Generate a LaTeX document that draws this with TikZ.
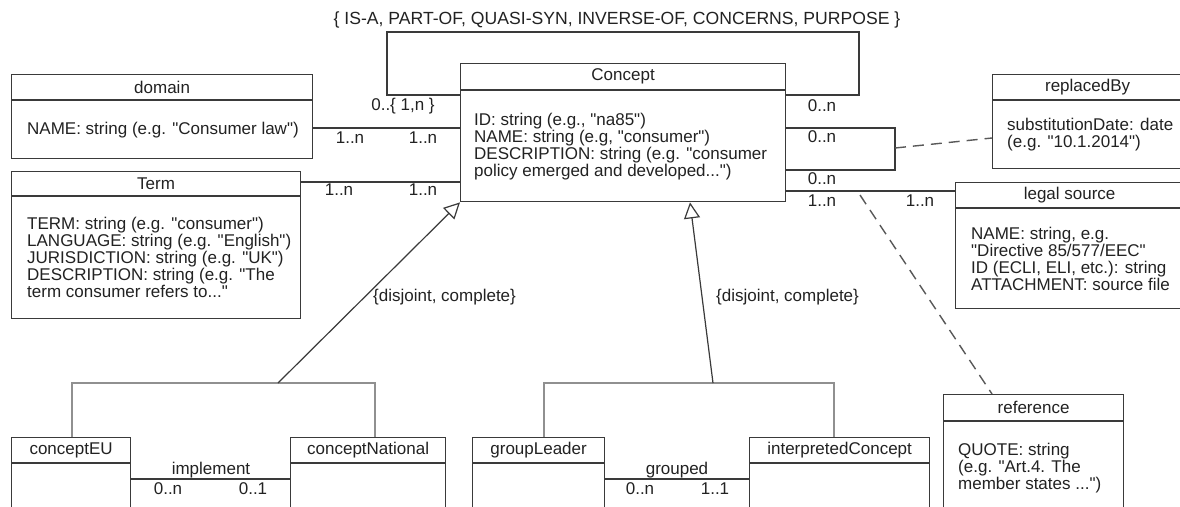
\documentclass[tikz,border=0pt]{standalone}
\usepackage{fontspec}
\setmainfont{Liberation Sans}[Ligatures=TeXOff]
\usetikzlibrary{arrows.meta,calc}

\definecolor{ink}{HTML}{222222}
\definecolor{edge}{HTML}{3A3A3A}
\definecolor{tree}{HTML}{909090}

\tikzset{
  box/.style={draw=edge, line width=1.2pt, anchor=north west, inner sep=0pt},
  title/.style={text=ink, font=\fontsize{17}{17}\selectfont, inner sep=0pt},
  attr/.style={text=ink, font=\fontsize{17}{17}\selectfont, align=left, anchor=west, inner sep=0pt},
  mult/.style={text=ink, font=\fontsize{17}{17}\selectfont, inner sep=0pt},
  assoc/.style={draw=edge, line width=1.2pt},
  dashlink/.style={draw=edge!85, line width=1.4pt, dash pattern=on 11pt off 7pt},
  gen/.style={draw=edge, line width=1.2pt, -{Triangle[open, length=16pt, width=16pt, fill=white]}},
  treeline/.style={draw=tree, line width=1.2pt},
}

\begin{document}
\begin{tikzpicture}[x=1pt, y=-1pt]
  \path[use as bounding box, fill=white] (0,0) rectangle (1180,506);
  \clip (0,0) rectangle (1180,506);

  % ---------- classes: header part + body part ----------
  % Concept
  \node[box, minimum width=325pt, minimum height=26pt] (concept-h) at (460,63) {};
  \node[box, minimum width=325pt, minimum height=111pt] (concept) at (concept-h.south west) {};
  \node[title] (concept-t) at (concept-h.center) {Concept};
  \node[attr] (concept-a) at ([xshift=14pt]concept.west)
    {ID: string (e.g., "na85")\\NAME: string (e.g, "consumer")\\DESCRIPTION: string (e.g. "consumer\\policy emerged and developed...")};

  % domain
  \node[box, minimum width=301pt, minimum height=25pt] (domain-h) at (11,74) {};
  \node[box, minimum width=301pt, minimum height=58pt] (domain) at (domain-h.south west) {};
  \node[title] (domain-t) at (domain-h.center) {domain};
  \node[attr] (domain-a) at ([xshift=16pt]domain.west) {NAME: string (e.g. "Consumer law")};

  % Term
  \node[box, minimum width=289pt, minimum height=24pt] (term-h) at (11,171) {};
  \node[box, minimum width=289pt, minimum height=122pt] (term) at (term-h.south west) {};
  \node[title] (term-t) at (term-h.center) {Term};
  \node[attr] (term-a) at ([xshift=16pt]term.west)
    {TERM: string (e.g. "consumer")\\LANGUAGE: string (e.g. "English")\\JURISDICTION: string (e.g. "UK")\\DESCRIPTION: string (e.g. "The\\term consumer refers to..."};

  % replacedBy
  \node[box, minimum width=190pt, minimum height=25pt] (repl-h) at (992,74) {};
  \node[box, minimum width=190pt, minimum height=68pt] (repl) at (repl-h.south west) {};
  \node[title] (repl-t) at (repl-h.center) {replacedBy};
  \node[attr] (repl-a) at ([xshift=15pt]repl.west) {substitutionDate: date\\(e.g. "10.1.2014")};

  % legal source
  \node[box, minimum width=228pt, minimum height=25pt] (legal-h) at (955,182) {};
  \node[box, minimum width=228pt, minimum height=100pt] (legal) at (legal-h.south west) {};
  \node[title] (legal-t) at (legal-h.center) {legal source};
  \node[attr] (legal-a) at ([xshift=16pt]legal.west)
    {NAME: string, e.g.\\"Directive 85/577/EEC"\\ID (ECLI, ELI, etc.): string\\ATTACHMENT: source file};

  % reference
  \node[box, minimum width=180pt, minimum height=26pt] (ref-h) at (943,394) {};
  \node[box, minimum width=180pt, minimum height=92pt] (ref) at (ref-h.south west) {};
  \node[title] (ref-t) at (ref-h.center) {reference};
  \node[attr] (ref-a) at ([xshift=15pt]ref.west) {QUOTE: string\\(e.g. "Art.4. The\\member states ...")};

  % conceptEU
  \node[box, minimum width=119pt, minimum height=25pt] (ceu-h) at (11,437) {};
  \node[box, minimum width=119pt, minimum height=60pt] (ceu) at (ceu-h.south west) {};
  \node[title] (ceu-t) at (ceu-h.center) {conceptEU};

  % conceptNational
  \node[box, minimum width=155pt, minimum height=25pt] (cnat-h) at (290,437) {};
  \node[box, minimum width=155pt, minimum height=60pt] (cnat) at (cnat-h.south west) {};
  \node[title] (cnat-t) at (cnat-h.center) {conceptNational};

  % groupLeader
  \node[box, minimum width=132pt, minimum height=25pt] (glead-h) at (472,437) {};
  \node[box, minimum width=132pt, minimum height=60pt] (glead) at (glead-h.south west) {};
  \node[title] (glead-t) at (glead-h.center) {groupLeader};

  % interpretedConcept
  \node[box, minimum width=180pt, minimum height=25pt] (interp-h) at (749,437) {};
  \node[box, minimum width=180pt, minimum height=60pt] (interp) at (interp-h.south west) {};
  \node[title] (interp-t) at (interp-h.center) {interpretedConcept};

  % ---------- reflexive relation on Concept ----------
  \coordinate (loopL) at (387,32);
  \coordinate (loopR) at (859,32);
  \draw[assoc] (concept-h.west |- 0,95) -| (loopL) -- (loopR) |- (concept-h.east |- 0,95);
  \node[title, font=\fontsize{17.6}{18}\selectfont] (rels) at (617,20) {\{ IS-A, PART-OF, QUASI-SYN, INVERSE-OF, CONCERNS, PURPOSE \}};
  \node[mult] (m-loopL) at (403,106) {0..\{ 1,n \}};
  \node[mult] (m-loopR) at (822,106) {0..n};

  % ---------- associations on the left ----------
  \draw[assoc] (domain.east |- 0,128) -- (concept.west |- 0,128);
  \node[mult] (m-dom1) at (350,138) {1..n};
  \node[mult] (m-dom2) at (423,138) {1..n};

  \draw[assoc] (term-h.east |- 0,182) -- (concept.west |- 0,182);
  \node[mult] (m-term1) at (339,190) {1..n};
  \node[mult] (m-term2) at (423,190) {1..n};

  % ---------- replacedBy association (class attached by dashes) ----------
  \coordinate (brkT) at (895,128);
  \coordinate (brkB) at (895,170);
  \coordinate (brkM) at (895,148);
  \draw[assoc] (concept.east |- brkT) -- (brkT) -- (brkB) -- (concept.east |- brkB);
  \node[mult] (m-rep1) at (822,137) {0..n};
  \node[mult] (m-rep2) at (822,179) {0..n};
  \draw[dashlink] (brkM) -- (repl.west |- 0,138);

  % ---------- legal source association ----------
  \draw[assoc] (concept.east |- 0,191) -- (legal-h.west |- 0,191);
  \node[mult] (m-leg1) at (822,201) {1..n};
  \node[mult] (m-leg2) at (920,201) {1..n};
  \coordinate (legmid) at (860,195);
  \draw[dashlink] (legmid) -- ([xshift=49pt]ref-h.north west);

  % ---------- generalisation sets ----------
  \coordinate (gen1) at (278,383);
  \draw[treeline] (ceu-h.north -| 72,0) |- (gen1) -| (cnat-h.north -| 375,0);
  \draw[gen] (gen1) -- (concept.south west);
  \node[mult, anchor=west] (gs1) at (373,297) {\{disjoint, complete\}};

  \coordinate (gen2) at (713,383);
  \draw[treeline] (glead-h.north -| 544,0) |- (gen2) -| (interp-h.north -| 834,0);
  \draw[gen] (gen2) -- (concept.south -| 690,0);
  \node[mult, anchor=west] (gs2) at (716,297) {\{disjoint, complete\}};

  % ---------- associations between subclasses ----------
  \draw[assoc] (ceu.east |- 0,479) -- (cnat.west |- 0,479);
  \node[mult] (impl) at (211,470) {implement};
  \node[mult] (m-imp1) at (168,489) {0..n};
  \node[mult] (m-imp2) at (253,489) {0..1};

  \draw[assoc] (glead.east |- 0,479) -- (interp.west |- 0,479);
  \node[mult] (grp) at (677,470) {grouped};
  \node[mult] (m-grp1) at (640,489) {0..n};
  \node[mult] (m-grp2) at (715,489) {1..1};
\end{tikzpicture}
\end{document}
